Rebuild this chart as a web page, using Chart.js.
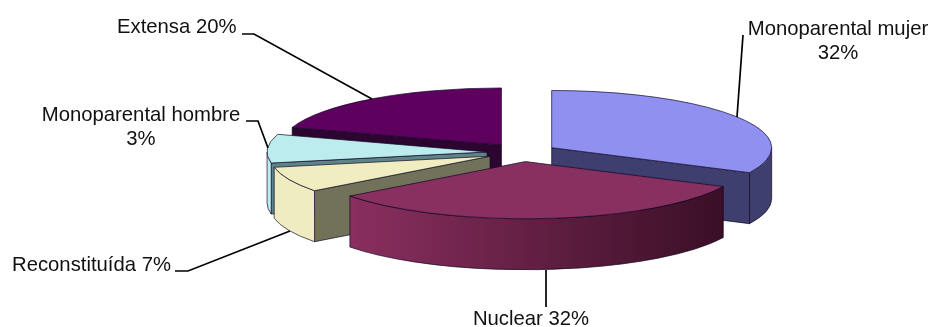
<!DOCTYPE html>
<html><head><meta charset="utf-8">
<style>html,body{margin:0;padding:0;background:#fff}#w{position:relative;width:931px;height:327px}</style>
<script src="https://cdn.jsdelivr.net/npm/chart.js@4"></script>
</head><body><div id="w"><canvas id="c" width="931" height="327"></canvas></div>
<script>
const categories = ['Monoparental mujer','Nuclear','Reconstituída','Monoparental hombre','Extensa'];
const sliceShares = [32.2, 32.5, 7.2, 8.1, 20];
const printedLabels = [['Monoparental mujer','32%'],['Nuclear 32%'],['Reconstituída 7%'],['Monoparental hombre','3%'],['Extensa 20%']];
const topColors = ['#8f90f0','#88305f','#f0edc0','#bcecee','#5e005e'];
const cutColors = ['#3e3f6e','#3e1028','#72725a','#5f8488','#2c0630'];
const edgeStart = ['#3e3f6e','#8a2f60','#f0ecc2','#bcecee','#2c0630'];
const edgeEnd = ['#3f406e','#3a0f25','#f0ecc2','#bcecee','#2c0630'];
const paintOrder = [4,3,0,2,1];

const TILT = 0.26, DEPTH = 51, FONT = '20.3px "Liberation Sans", Arial, sans-serif';
const labelSpec = [
 {x:[838,838],y:[35,59],align:'center',lead:[[743,35],[737,117]]},
 {x:[531],y:[325],align:'center',lead:[[546,270],[546,307]]},
 {x:[12],y:[271],align:'left',lead:[[175,271],[188,271],[290,231]]},
 {x:[141,141],y:[121,145],align:'center',lead:[[246,121],[258,121],[268,148]]},
 {x:[117],y:[33],align:'left',lead:[[242,34],[254,34],[372,99]]}
];

const pie3d = {
 id:'pie3d',
 beforeDatasetDraw(chart, args){
  const ctx = chart.ctx, arcs = chart.getDatasetMeta(0).data;
  paintOrder.forEach(i=>{
   const el = arcs[i], a = el.startAngle, b = el.endAngle, R = el.outerRadius, off = el.options.offset;
   const mid = (a+b)/2, cx = el.x+Math.cos(mid)*off, cy = el.y+Math.sin(mid)*off*TILT, ry = R*TILT;
   const px = t=>cx+Math.cos(t)*R, py = t=>cy+Math.sin(t)*ry;
   ctx.save();
   ctx.lineWidth = 0.8; ctx.strokeStyle = 'rgba(15,5,35,.85)'; ctx.lineJoin='round';
   const wall = t=>{
    ctx.beginPath(); ctx.moveTo(cx,cy); ctx.lineTo(px(t),py(t));
    ctx.lineTo(px(t),py(t)+DEPTH); ctx.lineTo(cx,cy+DEPTH); ctx.closePath();
    ctx.fillStyle = cutColors[i]; ctx.fill(); ctx.stroke();
   };
   if(Math.cos(a)<-0.001) wall(a);
   if(Math.cos(b)>0.001) wall(b);
   const w0 = Math.max(a,0), w1 = Math.min(b,Math.PI);
   if(w1>w0){
    const g = ctx.createLinearGradient(px(w1),0,px(w0),0);
    g.addColorStop(0,edgeStart[i]); g.addColorStop(1,edgeEnd[i]);
    ctx.beginPath(); ctx.ellipse(cx,cy,R,ry,0,w0,w1);
    ctx.lineTo(px(w1),py(w1)+DEPTH);
    ctx.ellipse(cx,cy+DEPTH,R,ry,0,w1,w0,true);
    ctx.closePath(); ctx.fillStyle = g; ctx.fill(); ctx.stroke();
   }
   ctx.beginPath(); ctx.moveTo(cx,cy); ctx.ellipse(cx,cy,R,ry,0,a,b); ctx.closePath();
   ctx.fillStyle = el.options.backgroundColor; ctx.fill(); ctx.stroke();
   ctx.restore();
  });
  return false;
 },
 afterDraw(chart){
  const ctx = chart.ctx;
  ctx.save();
  ctx.strokeStyle='#000'; ctx.lineWidth=1.7; ctx.fillStyle='#111'; ctx.font=FONT; ctx.textBaseline='alphabetic';
  labelSpec.forEach((s,i)=>{
   ctx.beginPath(); s.lead.forEach((p,k)=>k?ctx.lineTo(p[0],p[1]):ctx.moveTo(p[0],p[1])); ctx.stroke();
   ctx.textAlign = s.align;
   printedLabels[i].forEach((t,k)=>ctx.fillText(t,s.x[k],s.y[k]));
  });
  ctx.restore();
 }
};

new Chart(document.getElementById('c'),{
 type:'pie',
 data:{labels:categories,datasets:[{data:sliceShares,backgroundColor:topColors,borderWidth:0,offset:35}]},
 options:{
  responsive:false,animation:false,radius:220,
  layout:{padding:{left:113,bottom:22}},
  plugins:{legend:{display:false},tooltip:{enabled:false},title:{display:false}}
 },
 plugins:[pie3d]
});
</script></body></html>
